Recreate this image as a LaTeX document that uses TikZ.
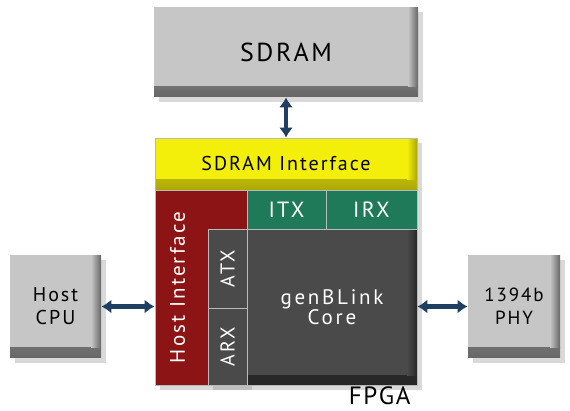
\documentclass[tikz,border=0pt]{standalone}
\usepackage{fontspec}
\setmainfont{PT Sans}[LetterSpace=10]
\usepackage{tikz}
\usetikzlibrary{arrows.meta,shadows}

\definecolor{boxgray}{HTML}{C6C6C6}
\definecolor{ifyellow}{HTML}{F4EF0A}
\definecolor{ifred}{HTML}{8C1414}
\definecolor{irgreen}{HTML}{1F7A5A}
\definecolor{coregray}{HTML}{4A4A4A}
\definecolor{busblue}{HTML}{1E3F62}

\tikzset{
  bevel/.style 2 args={path picture={
    \shade[top color=#1,bottom color=#2]
      ([yshift=10pt]path picture bounding box.south west)
      rectangle (path picture bounding box.south east);
    \shade[left color=#1,right color=#2]
      ([xshift=-10pt,yshift=-1pt]path picture bounding box.north east)
      rectangle ([yshift=10pt]path picture bounding box.south east);}},
  block/.style={draw=gray!55,line width=0.8pt,inner sep=0pt,
    drop shadow={opacity=0.3,shadow xshift=5pt,shadow yshift=-5pt}},
  graybox/.style={block,fill=boxgray,draw=none,text=black,bevel={boxgray}{black!60}},
  bus/.style={busblue,line width=4.5pt,
    {Latex[length=10pt,width=14pt]}-{Latex[length=10pt,width=14pt]}},
}

\begin{document}
\begin{tikzpicture}[x=1pt,y=-1pt]
    \useasboundingbox (0,0) rectangle (570,411);

    \node[graybox,minimum width=264,minimum height=90,font=\fontsize{26}{30}\selectfont]
        (sdram) at (286,52) {SDRAM};
    \node[graybox,minimum width=91,minimum height=103,font=\fontsize{20}{23}\selectfont,align=center]
        (cpu) at (55.5,306.5) {Host\\CPU};
    \node[graybox,minimum width=92,minimum height=103,font=\fontsize{19}{23}\selectfont,align=center]
        (phy) at (514,306.5) {1394b\\PHY};

    % FPGA blocks
    \node[block,fill=ifyellow,bevel={ifyellow}{ifyellow!70!black},minimum width=262,minimum height=52,
        font=\fontsize{20}{24}\selectfont] (sdramif) at (286,164) {SDRAM Interface};
    \node[block,fill=ifred,minimum width=92,minimum height=195,text=white,
        font=\fontsize{21}{24}\selectfont] (hostif) at (201,287.5)
        {\makebox[92pt][l]{\hspace*{15pt}\rotatebox{90}{Host Interface}}};
    \node[block,fill=irgreen,minimum width=79,minimum height=39,text=white,
        font=\fontsize{22}{24}\selectfont] (itx) at (286.5,209.5) {ITX};
    \node[block,fill=irgreen,minimum width=91,minimum height=39,text=white,
        font=\fontsize{22}{24}\selectfont] (irx) at (371.5,209.5) {IRX};
    \node[block,fill=coregray,minimum width=39,minimum height=79,text=white,
        font=\fontsize{20}{24}\selectfont] (atx) at (227.5,268.5) {\rotatebox{90}{ATX}};
    \node[block,fill=coregray,minimum width=39,minimum height=77,text=white,
        font=\fontsize{20}{24}\selectfont] (arx) at (227.5,346.5) {\rotatebox{90}{ARX}};
    \node[block,fill=coregray,bevel={coregray}{black!85},minimum width=170,minimum height=156,
        text=white,font=\fontsize{21}{19}\selectfont\addfontfeatures{LetterSpace=13},
        align=center] (core) at (332,307) {genBLink\\Core};

    \node[anchor=base east,font=\fontsize{25}{28}\selectfont\addfontfeatures{LetterSpace=7}]
        (fpga) at (414,404) {FPGA};

    % buses
    \draw[bus] (sdram.south) -- (sdramif.north);
    \draw[bus] (cpu.east) -- (cpu.east -| hostif.west);
    \draw[bus] (phy.west) -- (phy.west -| core.east);
\end{tikzpicture}
\end{document}
